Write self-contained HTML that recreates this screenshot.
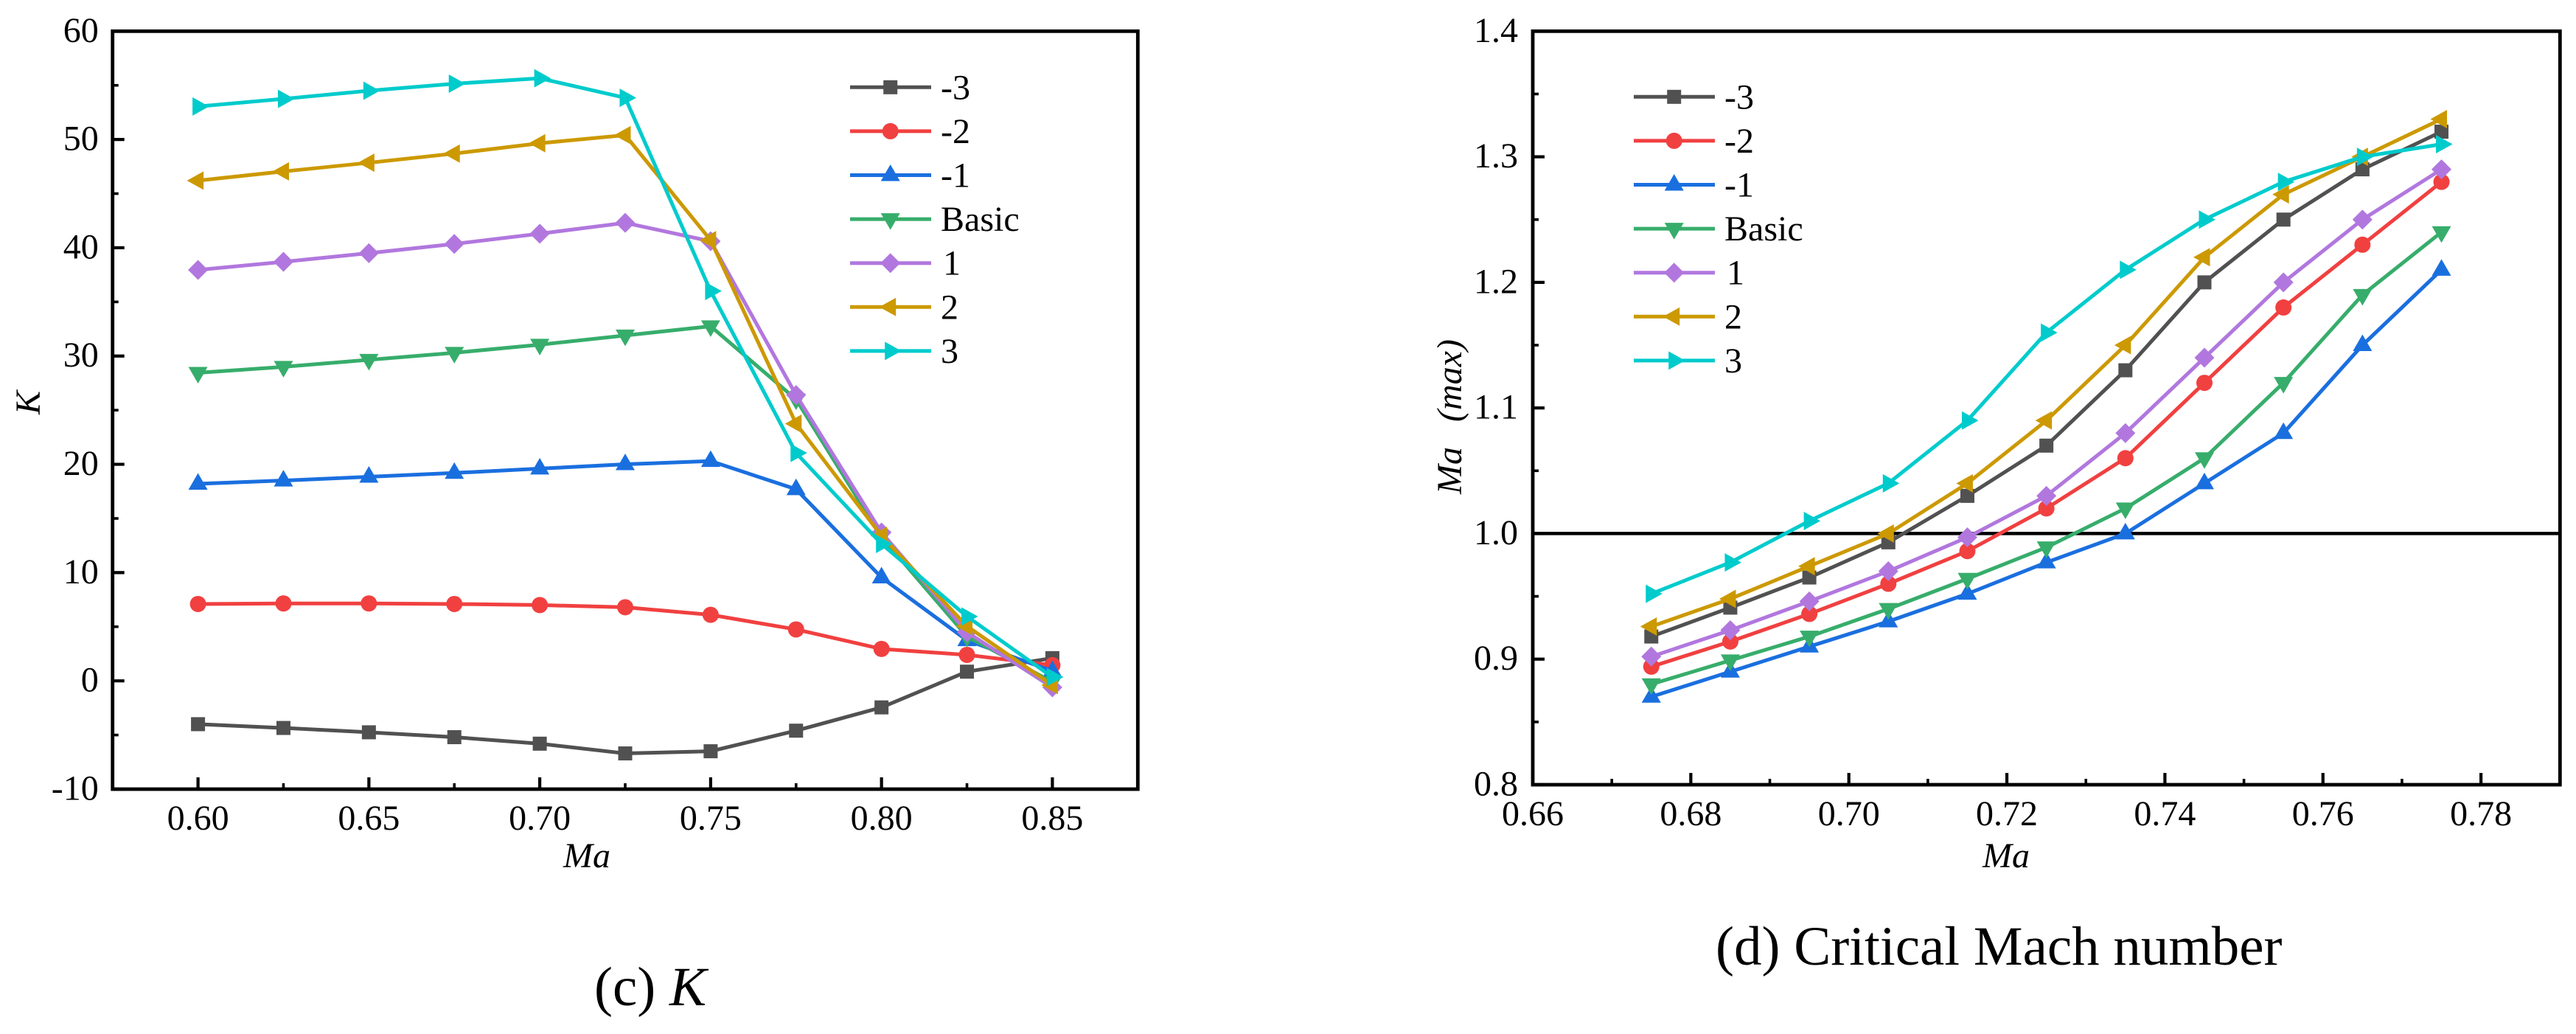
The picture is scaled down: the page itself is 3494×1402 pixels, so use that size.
<!DOCTYPE html>
<html lang="en">
<head>
<meta charset="utf-8">
<title>K and Critical Mach number charts</title>
<style>
html,body{margin:0;padding:0;background:#fff;}
svg{display:block;font-family:"Liberation Serif","Times New Roman",serif;fill:#000;}
text{font-size:48px;fill:#000;}
.it{font-style:italic;}
.cap{font-size:75px;}
</style>
</head>
<body>
<svg id="figure" width="3494" height="1402" viewBox="0 0 3494 1402" xmlns="http://www.w3.org/2000/svg">
  <rect x="0" y="0" width="3494" height="1402" fill="#fff"/>
  <g id="chart-k"></g>
  <g id="chart-mach"></g>
  <text class="it" x="796" y="1176" text-anchor="middle">Ma</text>
  <text class="it" transform="translate(54,546) rotate(-90)" text-anchor="middle">K</text>
  <text class="it" x="2721" y="1176" text-anchor="middle">Ma</text>
  <text class="it" transform="translate(1982,565) rotate(-90)" text-anchor="middle">Ma<tspan dx="34">(max)</tspan></text>
  <text class="cap" x="806" y="1363">(c) <tspan class="it">K</tspan></text>
  <text class="cap" x="2327" y="1308">(d) Critical Mach number</text>
</svg>
<script>
// ---- shared series info ----
const seriesNames = ['-3', '-2', '-1', 'Basic', '1', '2', '3'];
const seriesSlugs = ['minus-3', 'minus-2', 'minus-1', 'basic', 'plus-1', 'plus-2', 'plus-3'];
const seriesColors = ['#515151', '#F14040', '#1A6FDF', '#37AD6B', '#B177DE', '#CC9900', '#00CBCC'];
const seriesMarkers = ['square', 'circle', 'up', 'down', 'diamond', 'left', 'right'];

// ---- chart (c): K vs Ma ----
const kCategories = [0.6, 0.625, 0.65, 0.675, 0.7, 0.725, 0.75, 0.775, 0.8, 0.825, 0.85];
const kMinus3 = [-4.0, -4.35, -4.75, -5.2, -5.8, -6.7, -6.5, -4.6, -2.45, 0.85, 2.1];
const kMinus2 = [7.1, 7.15, 7.15, 7.1, 7.0, 6.8, 6.1, 4.75, 2.95, 2.4, 1.45];
const kMinus1 = [18.2, 18.5, 18.85, 19.2, 19.6, 20.0, 20.3, 17.7, 9.55, 3.75, 0.9];
const kBasic = [28.45, 29.0, 29.65, 30.3, 31.05, 31.9, 32.75, 26.0, 13.3, 4.1, -0.1];
const kPlus1 = [37.95, 38.7, 39.5, 40.35, 41.3, 42.3, 40.6, 26.4, 13.7, 4.5, -0.6];
const kPlus2 = [46.2, 47.05, 47.85, 48.7, 49.65, 50.4, 40.7, 23.75, 13.4, 5.05, -0.4];
const kPlus3 = [53.05, 53.75, 54.5, 55.15, 55.65, 53.85, 36.0, 21.05, 12.65, 5.95, 0.35];
const kXTicks = ['0.60', '0.65', '0.70', '0.75', '0.80', '0.85'];
const kXMinor = [0.625, 0.675, 0.725, 0.775, 0.825];
const kYTicks = ['-10', '0', '10', '20', '30', '40', '50', '60'];
const kYMinor = [-5, 5, 15, 25, 35, 45, 55];

// ---- chart (d): Ma(max) vs Ma ----
const machCategories = [0.675, 0.685, 0.695, 0.705, 0.715, 0.725, 0.735, 0.745, 0.755, 0.765, 0.775];
const machMinus3 = [0.918, 0.941, 0.965, 0.993, 1.03, 1.07, 1.13, 1.20, 1.25, 1.29, 1.32];
const machMinus2 = [0.894, 0.914, 0.936, 0.96, 0.986, 1.02, 1.06, 1.12, 1.18, 1.23, 1.28];
const machMinus1 = [0.87, 0.89, 0.91, 0.93, 0.952, 0.977, 1.0, 1.04, 1.08, 1.15, 1.21];
const machBasic = [0.88, 0.899, 0.918, 0.94, 0.964, 0.989, 1.02, 1.06, 1.12, 1.19, 1.24];
const machPlus1 = [0.902, 0.923, 0.946, 0.97, 0.997, 1.03, 1.08, 1.14, 1.2, 1.25, 1.29];
const machPlus2 = [0.926, 0.948, 0.974, 1.0, 1.04, 1.09, 1.15, 1.22, 1.27, 1.30, 1.33];
const machPlus3 = [0.952, 0.977, 1.01, 1.04, 1.09, 1.16, 1.21, 1.25, 1.28, 1.30, 1.31];
const machXTicks = ['0.66', '0.68', '0.70', '0.72', '0.74', '0.76', '0.78'];
const machXMinor = [0.67, 0.69, 0.71, 0.73, 0.75, 0.77];
const machYTicks = ['0.8', '0.9', '1.0', '1.1', '1.2', '1.3', '1.4'];
const machYMinor = [0.85, 0.95, 1.05, 1.15, 1.25, 1.35];
const machReference = 1.0;

const SVG_NS = 'http://www.w3.org/2000/svg';

function mk(parent, tag, attrs, txt) {
  const el = document.createElementNS(SVG_NS, tag);
  for (const k in attrs) el.setAttribute(k, attrs[k]);
  if (txt !== undefined) el.textContent = txt;
  parent.appendChild(el);
  return el;
}

function drawMarker(parent, type, cx, cy, color, name) {
  let el;
  if (type === 'square') {
    el = mk(parent, 'rect', {x: cx - 9.5, y: cy - 9.5, width: 19, height: 19, fill: color});
  } else if (type === 'circle') {
    el = mk(parent, 'circle', {cx: cx, cy: cy, r: 11, fill: color});
  } else {
    let pts;
    if (type === 'up') pts = [[0, -14.5], [13, 8], [-13, 8]];
    if (type === 'down') pts = [[0, 14.5], [13, -8], [-13, -8]];
    if (type === 'diamond') pts = [[0, -13.5], [13.5, 0], [0, 13.5], [-13.5, 0]];
    if (type === 'left') pts = [[-15, 0], [7.5, -12.5], [7.5, 12.5]];
    if (type === 'right') pts = [[15, 0], [-7.5, -12.5], [-7.5, 12.5]];
    el = mk(parent, 'polygon', {
      points: pts.map(p => (cx + p[0]) + ',' + (cy + p[1])).join(' '),
      fill: color
    });
  }
  
  
  return el;
}

function drawChart(g, prefix, cfg) {
  const sx = v => cfg.left + (v - cfg.xMin) / (cfg.xMax - cfg.xMin) * (cfg.right - cfg.left);
  const sy = v => cfg.bottom - (v - cfg.yMin) / (cfg.yMax - cfg.yMin) * (cfg.bottom - cfg.top);

  // ticks and labels
  cfg.xTicks.forEach(t => {
    const x = sx(parseFloat(t));
    const tick = mk(g, 'line', {x1: x, x2: x, y1: cfg.bottom, y2: cfg.bottom - 16, stroke: '#000', 'stroke-width': 4.2});
    
    
    const lab = mk(g, 'text', {x: x, y: cfg.bottom + cfg.xLabelGap, 'text-anchor': 'middle'}, t);
    
    
  });
  cfg.xMinor.forEach(t => {
    const x = sx(t);
    const tick = mk(g, 'line', {x1: x, x2: x, y1: cfg.bottom, y2: cfg.bottom - 8, stroke: '#000', 'stroke-width': 3.6});
    
    
  });
  cfg.yTicks.forEach(t => {
    const y = sy(parseFloat(t));
    const tick = mk(g, 'line', {x1: cfg.left, x2: cfg.left + 16, y1: y, y2: y, stroke: '#000', 'stroke-width': 4.2});
    
    
    const lab = mk(g, 'text', {x: cfg.left - cfg.yLabelGap, y: y + 14.5, 'text-anchor': 'end'}, t);
    
    
  });
  cfg.yMinor.forEach(t => {
    const y = sy(t);
    const tick = mk(g, 'line', {x1: cfg.left, x2: cfg.left + 8, y1: y, y2: y, stroke: '#000', 'stroke-width': 3.6});
    
    
  });

  // reference line
  if (cfg.reference !== undefined) {
    const ref = mk(g, 'line', {x1: cfg.left, x2: cfg.right, y1: sy(cfg.reference), y2: sy(cfg.reference), stroke: '#000', 'stroke-width': 4.5});
    
    
  }

  // series
  cfg.series.forEach((vals, i) => {
    const sg = mk(g, 'g', {});
    
    
    const pts = vals.map((v, j) => sx(cfg.categories[j]) + ',' + sy(v)).join(' ');
    const line = mk(sg, 'polyline', {points: pts, fill: 'none', stroke: seriesColors[i], 'stroke-width': 5, 'stroke-linejoin': 'miter'});
    
    
    vals.forEach((v, j) => {
      drawMarker(sg, seriesMarkers[i], sx(cfg.categories[j]), sy(v), seriesColors[i], prefix + '-point-' + seriesSlugs[i]);
    });
  });

  // frame
  const frame = mk(g, 'rect', {x: cfg.left, y: cfg.top, width: cfg.right - cfg.left, height: cfg.bottom - cfg.top, fill: 'none', stroke: '#000', 'stroke-width': 4.8});
  
  

  // legend
  const lg = mk(g, 'g', {});
  
  
  seriesNames.forEach((n, i) => {
    const y = cfg.legendY + i * 59.6;
    const entry = mk(lg, 'g', {});
    
    
    const l = mk(entry, 'line', {x1: cfg.legendX, x2: cfg.legendX + 110, y1: y, y2: y, stroke: seriesColors[i], 'stroke-width': 5});
    
    
    drawMarker(entry, seriesMarkers[i], cfg.legendX + 54.7, y, seriesColors[i], prefix + '-legend-marker-' + seriesSlugs[i]);
    const t = mk(entry, 'text', {x: n === '1' ? cfg.legendX + 126 : cfg.legendX + 123, y: y + 16}, n);
    
    
  });
}

drawChart(document.getElementById('chart-k'), 'k', {
  left: 152.7, right: 1543.3, top: 42.3, bottom: 1070,
  xMin: 0.575, xMax: 0.875, yMin: -10, yMax: 60,
  xLabelGap: 55, yLabelGap: 19,
  categories: kCategories,
  series: [kMinus3, kMinus2, kMinus1, kBasic, kPlus1, kPlus2, kPlus3],
  xTicks: kXTicks, xMinor: kXMinor, yTicks: kYTicks, yMinor: kYMinor,
  legendX: 1153, legendY: 118.3
});

drawChart(document.getElementById('chart-mach'), 'mach', {
  left: 2079, right: 3472.3, top: 42.3, bottom: 1064,
  xMin: 0.66, xMax: 0.79, yMin: 0.8, yMax: 1.4,
  xLabelGap: 55, yLabelGap: 20,
  categories: machCategories,
  series: [machMinus3, machMinus2, machMinus1, machBasic, machPlus1, machPlus2, machPlus3],
  xTicks: machXTicks, xMinor: machXMinor, yTicks: machYTicks, yMinor: machYMinor,
  reference: machReference,
  legendX: 2216, legendY: 131.3
});
</script>
</body>
</html>
